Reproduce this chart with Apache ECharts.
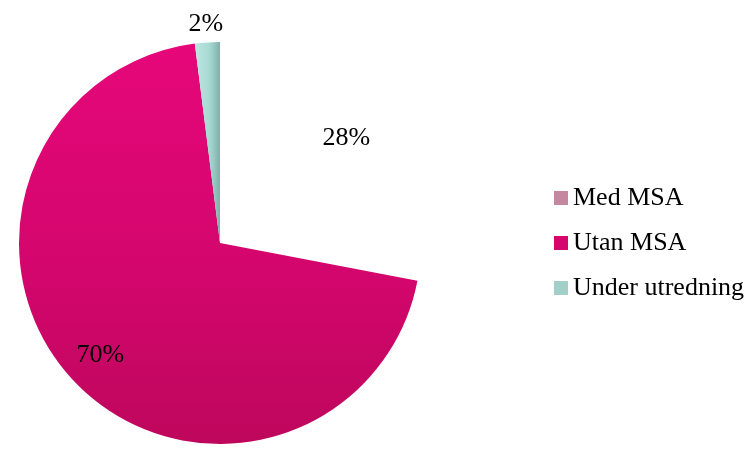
<!DOCTYPE html>
<html>
<head>
<meta charset="utf-8">
<script src="https://cdn.jsdelivr.net/npm/echarts@6/dist/echarts.min.js"></script>
<style>
html,body{margin:0;padding:0;background:#fff;}
#main{width:749px;height:450px;}
</style>
</head>
<body>
<div id="main"></div>
<script>
const categories = ['Med MSA', 'Utan MSA', 'Under utredning'];
const values = [28, 70, 2];
const labels = ['28%', '70%', '2%'];

const sliceColors = [
  '#ffffff',
  {type:'linear', x:0, y:0, x2:0, y2:1, colorStops:[{offset:0,color:'#E6077A'},{offset:0.6,color:'#D2066C'},{offset:1,color:'#BE075C'}]},
  {type:'linear', x:0, y:0, x2:1, y2:0, colorStops:[{offset:0,color:'#BFE6E0'},{offset:0.6,color:'#A6D8D2'},{offset:1,color:'#7FB0A8'}]}
];
const legendColors = ['#C4879D', '#D5066C', '#A2CFC8'];
const font = '"Liberation Serif", "Times New Roman", serif';

const chart = echarts.init(document.getElementById('main'), null, {renderer:'canvas'});
chart.setOption({
  animation: false,
  backgroundColor: '#ffffff',
  legend: {
    orient: 'vertical',
    left: 554,
    top: 185,
    padding: 0,
    itemWidth: 14,
    itemHeight: 14,
    itemGap: 19,
    icon: 'rect',
    textStyle: {fontFamily: font, fontSize: 26, color: '#000', lineHeight: 26},
    data: categories.map((c, i) => ({name: c, itemStyle: {color: legendColors[i], borderWidth: 0}}))
  },
  series: [
    {
      type: 'pie',
      center: [220, 243],
      radius: [0, 201],
      startAngle: 90,
      clockwise: true,
      silent: true,
      label: {show: false},
      labelLine: {show: false},
      itemStyle: {borderWidth: 0},
      data: categories.map((c, i) => ({name: c, value: values[i], itemStyle: {color: sliceColors[i]}}))
    },
    {
      type: 'pie',
      center: [220, 243],
      radius: [121, 201],
      startAngle: 90,
      clockwise: true,
      silent: true,
      avoidLabelOverlap: false,
      itemStyle: {color: 'rgba(0,0,0,0)', borderWidth: 0},
      label: {show: true, position: 'inside', fontFamily: font, fontSize: 26, color: '#000', formatter: p => labels[p.dataIndex]},
      labelLine: {show: false},
      data: categories.map((c, i) => {
        const d = {name: c, value: values[i]};
        if (i === 2) {
          d.label = {position: 'outside', distanceToLabelLine: -17};
          d.labelLine = {show: false, length: 18, length2: 0};
        }
        return d;
      })
    }
  ]
});
</script>
</body>
</html>
